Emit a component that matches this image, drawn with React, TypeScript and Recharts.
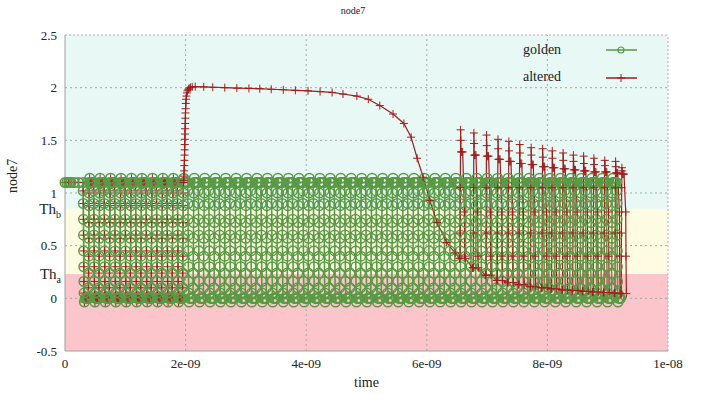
import React from 'react';
import { LineChart, Line, XAxis, YAxis, ReferenceArea, ReferenceLine, Legend } from 'recharts';

// time axis is kept in ns, labels printed gnuplot-style in seconds
const xTicks = [0, 2, 4, 6, 8, 10];
const xTickLabels = ['0', '2e-09', '4e-09', '6e-09', '8e-09', '1e-08'];

const thA = 0.23;
const thB = 0.85;
const yTicks = [-0.5, 0, thA, 0.5, thB, 1, 1.5, 2, 2.5];
const yTickLabels = ['-0.5', '0', 'Th_a', '0.5', 'Th_b', '1', '1.5', '2', '2.5'];
const gridX = [2, 4, 6, 8];
const gridY = [0, 0.5, 1, 1.5, 2];

// golden: flat lead-in, then a clock toggling between ~1.1 and ~0
const goldenLeadT = [0, 0.03, 0.06, 0.1, 0.15, 0.22];
const goldenLeadV = [1.1, 1.1, 1.1, 1.1, 1.1, 1.1];
const goldenFallTimes = [0.300, 0.474, 0.647, 0.821, 0.994, 1.168, 1.341, 1.515, 1.688, 1.862, 2.035, 2.209, 2.382, 2.556, 2.729, 2.903, 3.076, 3.250, 3.423, 3.597, 3.770, 3.944, 4.117, 4.291, 4.464, 4.638, 4.811, 4.985, 5.158, 5.332, 5.505, 5.679, 5.852, 6.026, 6.199, 6.373, 6.546, 6.720, 6.893, 7.067, 7.240, 7.414, 7.587, 7.761, 7.934, 8.108, 8.281, 8.455, 8.628, 8.802, 8.975, 9.149];
const goldenRiseTimes = [0.387, 0.560, 0.734, 0.907, 1.081, 1.254, 1.428, 1.601, 1.775, 1.948, 2.122, 2.295, 2.469, 2.642, 2.816, 2.989, 3.163, 3.336, 3.510, 3.683, 3.857, 4.030, 4.204, 4.377, 4.551, 4.724, 4.898, 5.071, 5.245, 5.418, 5.592, 5.765, 5.939, 6.112, 6.286, 6.459, 6.633, 6.806, 6.980, 7.153, 7.327, 7.500, 7.674, 7.847, 8.021, 8.194, 8.368, 8.541, 8.715, 8.888, 9.062];
// samples along one edge (offset from edge start, ns) and the levels passed through
const edgeOffsets = [0, 0.002, 0.004, 0.006, 0.008, 0.010, 0.012, 0.014, 0.017, 0.022, 0.035, 0.05, 0.065];
const goldenRiseLevels = [0, 0.1, 0.24, 0.4, 0.57, 0.72, 0.88, 1.0, 1.1, 1.14, 1.1, 1.1, 1.1];
const goldenFallLevels = [1.1, 1.02, 0.9, 0.75, 0.6, 0.45, 0.3, 0.16, 0.05, -0.035, 0, 0, 0];

// altered: follows golden, then jumps to 2 at ~2ns and decays
const alteredSplitT = 1.966;
const alteredRiseT = [1.968, 1.972, 1.975, 1.978, 1.980, 1.982, 1.984, 1.986, 1.988, 1.990, 1.992, 1.994, 1.996, 1.998, 2.000, 2.004, 2.008, 2.014, 2.022, 2.032, 2.045, 2.06, 2.08, 2.11];
const alteredRiseV = [1.12, 1.16, 1.21, 1.26, 1.31, 1.36, 1.41, 1.46, 1.51, 1.56, 1.61, 1.66, 1.71, 1.76, 1.8, 1.85, 1.89, 1.92, 1.95, 1.97, 1.985, 1.995, 2.003, 2.008];
const alteredDecayT = [2.16, 2.3, 2.45, 2.65, 2.85, 3.05, 3.23, 3.42, 3.62, 3.82, 4.03, 4.23, 4.43, 4.61, 4.84, 5.03, 5.22, 5.44, 5.62, 5.74, 5.84, 5.94, 6.05, 6.17, 6.33, 6.47];
const alteredDecayV = [2.01, 2.008, 2.004, 2.0, 1.996, 1.993, 1.99, 1.985, 1.98, 1.975, 1.97, 1.963, 1.955, 1.94, 1.92, 1.89, 1.83, 1.75, 1.66, 1.53, 1.33, 1.15, 0.93, 0.72, 0.53, 0.43];

// altered spikes after 6.5ns
const spikeTimes = [6.55, 6.77, 6.98, 7.17, 7.35, 7.53, 7.72, 7.91, 8.07, 8.25, 8.42, 8.59, 8.76, 8.94, 9.12, 9.225];
const spikeTop = [1.60, 1.57, 1.55, 1.51, 1.49, 1.46, 1.43, 1.42, 1.40, 1.38, 1.36, 1.35, 1.33, 1.31, 1.30, 1.24];
const spikeMid = [1.50, 1.47, 1.45, 1.42, 1.40, 1.38, 1.36, 1.34, 1.33, 1.31, 1.30, 1.28, 1.27, 1.26, 1.25, 1.21];
const spikeHold = [1.39, 1.36, 1.35, 1.32, 1.30, 1.28, 1.27, 1.25, 1.24, 1.23, 1.22, 1.21, 1.20, 1.20, 1.19, 1.18];
const spikeBase = [0.38, 0.29, 0.22, 0.17, 0.15, 0.13, 0.11, 0.10, 0.09, 0.08, 0.075, 0.067, 0.06, 0.055, 0.05, 0.045];
const spikeRiseLevels = [0.62, 1.05];
const spikeFallLevels = [0.82, 0.4];

const GREEN = '#5a9a44';
const RED = '#a11d1d';
const FONT = '"Liberation Serif", "DejaVu Serif", serif';

type Pt = { t: number; v: number };

const golden: Pt[] = [];
goldenLeadT.forEach((t, i) => golden.push({ t, v: goldenLeadV[i] }));
const edges = [
  ...goldenFallTimes.map((t) => ({ t, lv: goldenFallLevels })),
  ...goldenRiseTimes.map((t) => ({ t, lv: goldenRiseLevels })),
].sort((a, b) => a.t - b.t);
edges.forEach((e) => edgeOffsets.forEach((o, i) => golden.push({ t: e.t + o, v: e.lv[i] })));

// shared part sits under the golden marks, the diverging part is drawn on top
const alteredEarly: Pt[] = golden.filter((p) => p.t < alteredSplitT);
const altered: Pt[] = [alteredEarly[alteredEarly.length - 1]];
alteredRiseT.forEach((t, i) => altered.push({ t, v: alteredRiseV[i] }));
alteredDecayT.forEach((t, i) => altered.push({ t, v: alteredDecayV[i] }));
spikeTimes.forEach((ts, k) => {
  const b = spikeBase[k];
  altered.push({ t: ts - 0.01, v: b });
  altered.push({ t: ts, v: b });
  spikeRiseLevels.forEach((v, i) => altered.push({ t: ts + 0.003 * (i + 1), v }));
  altered.push({ t: ts + 0.011, v: spikeTop[k] });
  altered.push({ t: ts + 0.014, v: spikeMid[k] });
  altered.push({ t: ts + 0.018, v: spikeHold[k] });
  altered.push({ t: ts + 0.03, v: spikeHold[k] });
  altered.push({ t: ts + 0.045, v: spikeHold[k] });
  spikeFallLevels.forEach((v, i) => altered.push({ t: ts + 0.074 + 0.004 * i, v }));
  altered.push({ t: ts + 0.085, v: b });
});

const CircleDot = (p: any) =>
  p.cx == null ? null : (
    <circle key={p.index} cx={p.cx} cy={p.cy} r={4.8} fill="none" stroke={GREEN} strokeWidth={1.5} />
  );

const CrossDot = (p: any) =>
  p.cx == null ? null : (
    <path key={p.index} d={`M${p.cx - 4},${p.cy}h8M${p.cx},${p.cy - 4}v8`} stroke={RED} strokeWidth={1} fill="none" />
  );

const YTick = (props: any) => {
  const { x, y, payload } = props;
  const label = yTickLabels[yTicks.indexOf(payload.value)];
  if (label && label.startsWith('Th')) {
    return (
      <text x={x + 4} y={y} dy="0.35em" textAnchor="end" fontSize={15} fill="#222" fontFamily={FONT}>
        Th<tspan fontSize={10} dy={4}>{label.slice(3)}</tspan>
      </text>
    );
  }
  return (
    <text x={x} y={y} dy="0.35em" textAnchor="end" fontSize={13} fill="#222" fontFamily={FONT}>
      {label}
    </text>
  );
};

const LegendBox = () => (
  <svg width={140} height={50} style={{ display: 'block' }}>
    <text x={8} y={15} fontSize={14} fontFamily={FONT} fill="#222">golden</text>
    <line x1={91} x2={122} y1={11} y2={11} stroke={GREEN} strokeWidth={1.5} />
    <circle cx={106} cy={11} r={3} fill="none" stroke={GREEN} strokeWidth={1.2} />
    <text x={8} y={42} fontSize={14} fontFamily={FONT} fill="#222">altered</text>
    <line x1={91} x2={122} y1={39} y2={39} stroke={RED} strokeWidth={1.5} />
    <path d="M102,39h8M106,35v8" stroke={RED} strokeWidth={1} />
  </svg>
);

export default function App() {
  return (
    <div style={{ position: 'absolute', left: 0, top: 0, width: 706, height: 394, background: '#fff' }}>
      <div style={{ position: 'absolute', top: 5, left: 0, width: 706, textAlign: 'center', fontFamily: FONT, fontSize: 10, color: '#222' }}>
        node7
      </div>
      <LineChart width={706} height={394} margin={{ top: 35, right: 38, left: 0, bottom: 0 }}>
        <XAxis
          type="number"
          dataKey="t"
          domain={[0, 10]}
          ticks={xTicks}
          tickFormatter={(v: number) => xTickLabels[xTicks.indexOf(v)]}
          tickLine={false}
          height={43}
          stroke="#a0a0a0"
          tick={{ fontSize: 13, fill: '#222', fontFamily: FONT }}
          label={{ value: 'time', position: 'insideBottom', offset: 7, fontSize: 14, fill: '#222', fontFamily: FONT }}
        />
        <YAxis
          type="number"
          domain={[-0.5, 2.5]}
          ticks={yTicks}
          tick={<YTick />}
          tickLine={false}
          width={65}
          stroke="#a0a0a0"
          interval={0}
          label={{ value: 'node7', angle: -90, position: 'insideLeft', offset: 12, fontSize: 14, fill: '#222', fontFamily: FONT }}
        />
        <ReferenceArea x1={0} x2={10} y1={-0.5} y2={thA} fill="#fcc5cc" fillOpacity={1} stroke="none" />
        <ReferenceArea x1={0} x2={10} y1={thA} y2={thB} fill="#fdfbe2" fillOpacity={1} stroke="none" />
        <ReferenceArea x1={0} x2={10} y1={thB} y2={2.5} fill="#e7f8f5" fillOpacity={1} stroke="none" />
        {gridX.map((x) => (
          <ReferenceLine key={'gx' + x} x={x} stroke="#a8a8a8" strokeDasharray="2 3" />
        ))}
        {gridY.map((y) => (
          <ReferenceLine key={'gy' + y} y={y} stroke="#a8a8a8" strokeDasharray="2 3" />
        ))}
        <ReferenceLine y={2.5} stroke="#b0b0b0" strokeDasharray="2 2" />
        <ReferenceLine x={10} stroke="#b0b0b0" strokeDasharray="2 2" />
        <Line
          data={alteredEarly}
          dataKey="v"
          type="linear"
          stroke={RED}
          strokeWidth={1}
          dot={CrossDot}
          activeDot={false}
          isAnimationActive={false}
          name="altered-shared"
        />
        <Line
          data={golden}
          dataKey="v"
          type="linear"
          stroke={GREEN}
          strokeWidth={1.6}
          dot={CircleDot}
          activeDot={false}
          isAnimationActive={false}
          name="golden"
        />
        <Line
          data={altered}
          dataKey="v"
          type="linear"
          stroke={RED}
          strokeWidth={1.2}
          dot={CrossDot}
          activeDot={false}
          isAnimationActive={false}
          name="altered"
        />
        <Legend
          layout="horizontal"
          verticalAlign="middle"
          align="center"
          wrapperStyle={{ position: 'absolute', top: 39, left: 515, width: 140, height: 50 }}
          content={() => <LegendBox />}
        />
      </LineChart>
    </div>
  );
}
